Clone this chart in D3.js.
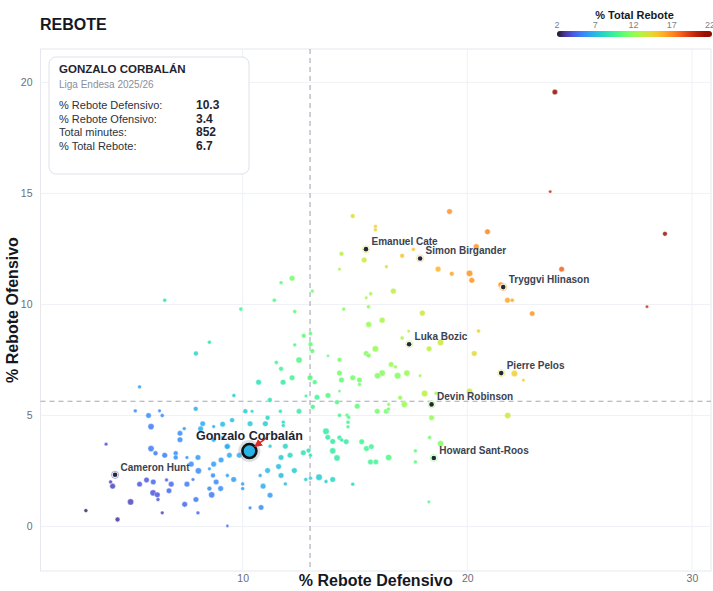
<!DOCTYPE html>
<html>
<head>
<meta charset="utf-8">
<script src="https://cdn.jsdelivr.net/npm/d3@7"></script>
<style>
  body { margin: 0; background: #fff; }
  svg { display: block; font-family: "Liberation Sans", Arial, sans-serif; }
</style>
</head>
<body>
<div id="chart"></div>
<script>
// [% reb def, % reb of, % total reb, minutes]
const pointRows = [
  [23.9, 19.56, 21.5, 400], [23.69, 15.08, 19.5, 150], [28.8, 13.18, 21, 300], [24.2, 11.59, 18, 400],
  [28.0, 9.9, 19.5, 150], [20.9, 13.27, 17, 420], [21.49, 10.89, 16.5, 400], [21.79, 10.19, 16, 420],
  [22.0, 10.19, 16, 220], [22.89, 9.59, 16.5, 380], [20.5, 8.8, 14.5, 220], [22.1, 6.89, 14.5, 550],
  [22.5, 6.59, 14.5, 150], [14.9, 13.98, 14, 300], [15.91, 13.51, 14.5, 200], [15.91, 13.36, 14.5, 200],
  [19.21, 14.18, 16.5, 420], [20.4, 12.6, 16.5, 450], [17.6, 12.48, 15, 200], [17.19, 12.88, 15, 200],
  [14.4, 12.28, 13, 300], [17.1, 12.19, 15, 300], [15.41, 12.0, 13.5, 420], [14.31, 11.59, 12.5, 150],
  [16.4, 11.7, 14, 180], [18.7, 11.59, 15.5, 420], [19.31, 11.38, 16, 300], [20.1, 11.4, 16.5, 550],
  [20.2, 11.09, 16.5, 430], [13.1, 10.6, 11, 200], [16.71, 10.6, 13, 450], [15.7, 10.48, 12.5, 200],
  [15.5, 10.3, 12.5, 150], [14.5, 9.79, 11.5, 200], [15.6, 9.9, 12, 220], [18.0, 9.61, 13.5, 450],
  [16.21, 9.29, 12.5, 450], [15.61, 9.1, 12, 450], [17.39, 8.8, 12.5, 150], [17.1, 8.49, 12.5, 220],
  [18.81, 8.29, 13.5, 550], [18.3, 8.0, 13, 420], [20.31, 7.79, 14, 420], [15.91, 8.0, 12, 550],
  [15.5, 7.79, 11.5, 400], [15.61, 7.7, 11.5, 300], [12.72, 8.59, 10.5, 300], [13.02, 8.69, 10.5, 220],
  [13.8, 7.69, 10.5, 130], [14.31, 7.51, 11, 300], [13.02, 8.21, 10.5, 300], [13.1, 7.9, 10.5, 300],
  [12.51, 7.5, 10, 520], [16.61, 7.3, 12, 380], [16.8, 7.19, 12, 200], [16.21, 6.91, 11.5, 550],
  [16.0, 6.79, 11.5, 500], [16.9, 6.79, 11.5, 560], [17.31, 6.91, 12, 520], [14.31, 6.91, 11, 400],
  [17.9, 6.79, 12, 150], [12.2, 11.18, 11, 420], [11.71, 10.98, 10.5, 200], [11.41, 10.19, 10, 220],
  [9.92, 9.79, 9.5, 220], [12.32, 9.68, 10.5, 220], [12.32, 8.18, 10, 200], [11.5, 7.39, 9.5, 220],
  [11.71, 7.1, 9.5, 320], [10.71, 6.5, 8.5, 420], [11.8, 6.5, 9, 420], [12.2, 6.7, 9.5, 420],
  [13.0, 6.7, 10, 420], [13.21, 6.5, 10, 320], [14.4, 6.6, 10.5, 420], [14.9, 6.7, 11, 420],
  [15.2, 6.6, 11, 400], [15.2, 6.4, 11, 200], [14.31, 6.1, 10.5, 130], [18.1, 5.99, 13, 550],
  [17.01, 5.8, 12, 300], [13.31, 5.82, 9.5, 400], [13.8, 5.9, 10, 420], [11.21, 5.7, 8.5, 320],
  [12.82, 5.88, 9.5, 180], [9.61, 5.9, 7.5, 200], [15.1, 5.42, 10.5, 420], [14.2, 5.6, 10, 320],
  [13.12, 5.39, 9.5, 320], [12.51, 5.19, 9, 400], [11.68, 5.19, 8.5, 200], [10.42, 5.19, 8, 180],
  [10.12, 5.19, 7.5, 320], [14.31, 5.01, 9.5, 220], [14.65, 5.01, 10, 220], [14.72, 4.92, 10, 200],
  [15.99, 5.19, 11, 400], [16.39, 5.19, 11, 380], [16.49, 5.29, 11, 200], [17.2, 5.5, 12, 520],
  [16.5, 5.5, 11.5, 180], [11.11, 4.9, 8, 320], [9.53, 4.79, 7, 320], [10.33, 4.63, 7.5, 420],
  [11.01, 4.63, 7.5, 420], [11.81, 4.7, 8, 200], [11.81, 4.55, 8, 200], [14.69, 4.7, 9.5, 220],
  [14.69, 4.49, 9.5, 200], [13.71, 4.29, 9, 560], [13.79, 4.02, 9, 400], [14.01, 3.83, 9, 420],
  [14.31, 4.0, 9, 320], [14.41, 3.9, 9, 220], [14.61, 3.82, 9, 400], [15.3, 3.82, 9.5, 400],
  [15.51, 3.51, 9.5, 420], [15.73, 3.6, 9.5, 400], [16.5, 3.11, 10, 520], [15.69, 2.91, 9.5, 420],
  [15.93, 2.91, 9.5, 380], [14.01, 3.41, 9, 520], [14.2, 3.09, 9, 520], [11.9, 3.62, 8, 420],
  [11.22, 3.62, 7.5, 200], [12.11, 3.21, 8, 420], [12.7, 3.32, 8.5, 400], [12.93, 3.42, 8.5, 300],
  [13.02, 3.21, 8.5, 200], [11.71, 3.11, 7.5, 420], [9.33, 3.62, 6.5, 400], [9.41, 3.21, 6.5, 400],
  [9.85, 3.21, 6.5, 420], [11.6, 2.7, 7, 420], [11.11, 2.52, 7, 420], [12.3, 2.52, 7.5, 420],
  [10.78, 2.3, 6.5, 200], [11.71, 2.3, 7, 420], [9.6, 2.12, 6, 420], [9.32, 2.3, 6, 200],
  [10.0, 1.92, 6, 200], [10.0, 1.71, 6, 200], [10.91, 1.82, 6.5, 420], [11.9, 1.92, 7, 200],
  [12.81, 2.12, 7.5, 200], [13.02, 2.18, 7.5, 200], [13.4, 2.22, 7.5, 560], [13.71, 2.03, 7.5, 200],
  [14.01, 2.12, 8, 420], [14.9, 1.91, 8, 200], [11.22, 1.41, 6, 420], [10.33, 0.84, 5.5, 180],
  [10.82, 0.86, 5.5, 400], [9.32, 0.03, 4.5, 130], [5.41, 6.29, 6, 200], [5.22, 5.21, 5.5, 200],
  [6.3, 5.21, 5.5, 180], [6.42, 5.0, 5.5, 220], [5.81, 5.0, 5.5, 400], [7.91, 5.3, 6.5, 320],
  [5.92, 4.5, 5, 520], [7.4, 4.41, 6, 200], [7.21, 4.2, 5.5, 400], [7.21, 3.91, 5.5, 420],
  [8.22, 4.63, 6.5, 400], [8.13, 4.4, 6.5, 420], [8.71, 4.5, 6.5, 180], [9.11, 4.61, 7, 400],
  [3.92, 3.71, 4, 180], [5.92, 3.51, 5, 520], [6.12, 3.3, 5, 320], [6.53, 3.21, 5, 420],
  [7.02, 3.3, 5.5, 320], [7.02, 3.11, 5.5, 320], [7.52, 3.11, 5.5, 180], [8.01, 3.11, 6, 420],
  [8.71, 3.91, 6.5, 320], [9.11, 4.01, 6.5, 180], [9.31, 3.6, 6.5, 420], [9.04, 3.0, 6, 420],
  [8.71, 2.81, 6, 420], [7.71, 2.81, 5.5, 420], [8.03, 2.51, 5.5, 520], [8.52, 2.6, 6, 180],
  [8.52, 1.71, 5.5, 320], [8.68, 2.3, 5.5, 320], [8.82, 2.01, 5.5, 420], [9.02, 1.71, 5.5, 420],
  [8.62, 1.43, 5, 520], [7.79, 2.12, 5, 180], [7.52, 1.91, 5, 420], [6.82, 1.91, 4.5, 420],
  [6.61, 2.1, 4.5, 200], [6.02, 2.01, 4.5, 420], [5.72, 2.1, 4, 400], [5.41, 1.91, 4, 400],
  [6.72, 1.61, 4.5, 400], [6.01, 1.52, 4, 520], [6.2, 1.43, 4, 420], [6.23, 1.22, 4, 200],
  [7.92, 1.22, 5, 420], [7.42, 1.0, 4.5, 420], [8.01, 0.62, 4.5, 200], [6.42, 0.62, 3.5, 180],
  [5.01, 1.11, 3.5, 520], [4.21, 1.82, 3.5, 420], [4.12, 2.01, 3.5, 200], [3.02, 0.72, 2.5, 200],
  [4.43, 0.32, 3, 320], [6.53, 10.19, 8.5, 200], [7.92, 7.79, 8, 320], [8.52, 8.3, 8.5, 200],
  [18.61, 6.0, 12.5, 200], [20.1, 6.09, 13.5, 520], [18.41, 4.9, 12, 420], [21.8, 5.0, 13.5, 520],
  [17.69, 3.41, 10.5, 200], [18.32, 4.01, 11, 200], [18.81, 3.73, 11.5, 520], [17.69, 2.91, 10.5, 200],
  [18.29, 1.11, 10, 150]
];

// labelled players
const labelNames = ["Emanuel Cate", "Simon Birgander", "Tryggvi Hlinason", "Luka Bozic",
  "Pierre Pelos", "Devin Robinson", "Howard Sant-Roos", "Cameron Hunt"];
const labelDef = [15.49, 17.9, 21.6, 17.41, 21.51, 18.41, 18.51, 4.32];
const labelOff = [12.49, 12.07, 10.78, 8.21, 6.91, 5.5, 3.09, 2.33];
const labelTot = [14, 15, 16.5, 12.8, 14, 12, 10.8, 3.3];

// focus player
const focusName = "Gonzalo Corbalán";
const focusDef = 10.3, focusOff = 3.4, focusTot = 6.7, focusMin = 852;
const infoLabels = ["% Rebote Defensivo:", "% Rebote Ofensivo:", "Total minutes:", "% Total Rebote:"];
const infoValues = ["10.3", "3.4", "852", "6.7"];

const meanDef = 13.0, meanOff = 5.64;
const xTicks = [10, 20, 30];
const yTicks = [0, 5, 10, 15, 20];
const legendTicks = [2, 7, 12, 17, 22];

const W = 713, H = 591;
const plot = { left: 40.5, right: 711, top: 49, bottom: 571 };

const svg = d3.select("#chart").append("svg").attr("width", W).attr("height", H);
const defs = svg.append("defs");

const x = d3.scaleLinear().domain([1, 30.85]).range([plot.left, plot.right]);
const y = d3.scaleLinear().domain([-2, 21.5]).range([plot.bottom, plot.top]);
const color = v => d3.interpolateTurbo((v - 2) / 20);
const r = d3.scaleSqrt().domain([0, 1000]).range([0, 4.3]);

// plot frame
svg.append("rect")
  .attr("x", plot.left).attr("y", plot.top)
  .attr("width", plot.right - plot.left).attr("height", plot.bottom - plot.top)
  .attr("fill", "#fff").attr("stroke", "#e6e8ee");

// grid
const grid = svg.append("g");
grid.selectAll(".gx").data(xTicks).enter().append("line")
  .attr("x1", d => x(d)).attr("x2", d => x(d))
  .attr("y1", plot.top).attr("y2", plot.bottom)
  .attr("stroke", "#eef1f6");
grid.selectAll(".gy").data(yTicks).enter().append("line")
  .attr("x1", plot.left).attr("x2", plot.right)
  .attr("y1", d => y(d)).attr("y2", d => y(d))
  .attr("stroke", "#eef1f6");

// tick labels via axes
const xAxis = svg.append("g")
  .attr("transform", `translate(0,${plot.bottom})`)
  .call(d3.axisBottom(x).tickValues(xTicks).tickSize(0).tickPadding(4));
const yAxis = svg.append("g")
  .attr("transform", `translate(${plot.left},0)`)
  .call(d3.axisLeft(y).tickValues(yTicks).tickSize(0).tickPadding(8));
[xAxis, yAxis].forEach(a => {
  a.select(".domain").remove();
  a.selectAll("text").attr("fill", "#6b6f78").style("font-size", "10.5px")
    .style("font-family", "'Liberation Sans', Arial, sans-serif");
});

// mean lines
svg.append("line")
  .attr("x1", x(meanDef)).attr("x2", x(meanDef))
  .attr("y1", plot.top).attr("y2", plot.bottom)
  .attr("stroke", "#a3a8b4").attr("stroke-width", 1.1).attr("stroke-dasharray", "5,4");
svg.append("line")
  .attr("x1", plot.left).attr("x2", plot.right)
  .attr("y1", y(meanOff)).attr("y2", y(meanOff))
  .attr("stroke", "#a3a8b4").attr("stroke-width", 1.1).attr("stroke-dasharray", "5,4");

// points
svg.append("g").selectAll("circle")
  .data(pointRows).enter().append("circle")
  .attr("cx", d => x(d[0])).attr("cy", d => y(d[1]))
  .attr("r", d => r(d[3]))
  .attr("fill", d => color(d[2]))
  .attr("fill-opacity", 0.85)
  .attr("stroke", "#fff").attr("stroke-width", 0.4);

// labelled players
const lab = svg.append("g").selectAll("g")
  .data(labelNames.map((n, i) => ({ n, d: labelDef[i], o: labelOff[i], t: labelTot[i] })))
  .enter().append("g")
  .attr("transform", p => `translate(${x(p.d)},${y(p.o)})`);
lab.append("circle").attr("r", 3.6).attr("fill", "#fff")
  .attr("stroke", p => color(p.t)).attr("stroke-width", 1).attr("stroke-opacity", 0.45);
lab.append("circle").attr("r", 2.3).attr("fill", "#1f2937");
lab.append("text").text(p => p.n)
  .attr("x", 5.5).attr("y", -4)
  .attr("fill", "#3b4250").style("font-size", "10px").style("font-weight", "bold");

// focus player
const fx = x(focusDef), fy = y(focusOff);
svg.append("circle").attr("cx", fx).attr("cy", fy).attr("r", 11)
  .attr("fill", "#9ca3af").attr("fill-opacity", 0.35);
svg.append("circle").attr("cx", fx).attr("cy", fy).attr("r", 7)
  .attr("fill", color(focusTot)).attr("stroke", "#111").attr("stroke-width", 2.6);

defs.append("marker")
  .attr("id", "arrow").attr("viewBox", "0 0 10 10")
  .attr("refX", 8).attr("refY", 5)
  .attr("markerWidth", 5).attr("markerHeight", 5)
  .attr("orient", "auto")
  .append("path").attr("d", "M0,0 L10,5 L0,10 z").attr("fill", "#dc2626");
svg.append("line")
  .attr("x1", fx + 18).attr("y1", fy - 14)
  .attr("x2", fx + 6).attr("y2", fy - 5)
  .attr("stroke", "#dc2626").attr("stroke-width", 1.6)
  .attr("marker-end", "url(#arrow)");
svg.append("text").text(focusName)
  .attr("x", fx).attr("y", fy - 11.5)
  .attr("text-anchor", "middle")
  .attr("fill", "#1f2430").style("font-size", "12.5px").style("font-weight", "bold");

// info box
const box = svg.append("g");
box.append("rect").attr("x", 49).attr("y", 57).attr("width", 200).attr("height", 117)
  .attr("rx", 7).attr("fill", "#fff").attr("stroke", "#dde1e8");
box.append("text").text("GONZALO CORBALÁN").attr("x", 59).attr("y", 73)
  .attr("fill", "#1f2430").style("font-size", "11.5px").style("font-weight", "bold");
box.append("text").text("Liga Endesa 2025/26").attr("x", 59).attr("y", 88)
  .attr("fill", "#8a8f99").style("font-size", "10px");
infoLabels.forEach((t, i) => {
  box.append("text").text(t).attr("x", 59).attr("y", 109 + i * 13.6)
    .attr("fill", "#2d3139").style("font-size", "11px");
  box.append("text").text(infoValues[i]).attr("x", 196).attr("y", 109 + i * 13.6)
    .attr("fill", "#1f2430").style("font-size", "12px").style("font-weight", "bold");
});

// titles
svg.append("text").text("REBOTE").attr("x", 40).attr("y", 29.5)
  .attr("fill", "#15181f").style("font-size", "16px").style("font-weight", "bold");
svg.append("text").text("% Rebote Defensivo")
  .attr("x", (plot.left + plot.right) / 2).attr("y", 586)
  .attr("text-anchor", "middle")
  .attr("fill", "#15181f").style("font-size", "16px").style("font-weight", "bold");
svg.append("text").text("% Rebote Ofensivo")
  .attr("transform", `translate(18,${(plot.top + plot.bottom) / 2}) rotate(-90)`)
  .attr("text-anchor", "middle")
  .attr("fill", "#15181f").style("font-size", "16px").style("font-weight", "bold");

// colour legend
const lx = d3.scaleLinear().domain([2, 22]).range([557, 710]);
const grad = defs.append("linearGradient").attr("id", "turbo");
d3.range(0, 1.001, 0.05).forEach(t => {
  grad.append("stop").attr("offset", t).attr("stop-color", d3.interpolateTurbo(t));
});
svg.append("rect").attr("x", 557).attr("y", 31).attr("width", 155).attr("height", 6)
  .attr("rx", 3).attr("fill", "url(#turbo)");
svg.append("text").text("% Total Rebote").attr("x", 634.5).attr("y", 18.5)
  .attr("text-anchor", "middle")
  .attr("fill", "#15181f").style("font-size", "11px").style("font-weight", "bold");
svg.append("g").selectAll("text").data(legendTicks).enter().append("text")
  .text(d => d).attr("x", d => lx(d)).attr("y", 27.5)
  .attr("text-anchor", "middle")
  .attr("fill", "#7a7f88").style("font-size", "9px");
</script>
</body>
</html>
